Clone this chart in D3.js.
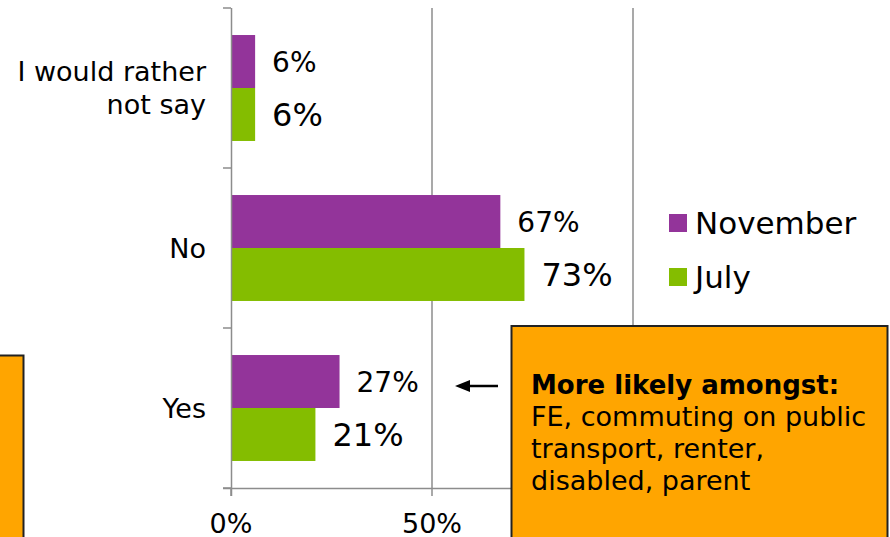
<!DOCTYPE html>
<html>
<head>
<meta charset="utf-8">
<script src="https://cdn.jsdelivr.net/npm/d3@7"></script>
<style>
  body { margin: 0; background: #fff; }
  svg { display: block; font-family: "DejaVu Sans", Verdana, sans-serif; }
</style>
</head>
<body>
<div id="chart"></div>
<script>
var w = 890, h = 537;

// data
var categories = ["I would rather not say", "No", "Yes"];
var series = ["November", "July"];
var november = [6, 67, 27];
var july = [6, 73, 21];
var seriesColors = ["#93349a", "#84bd00"];
var xTicks = [0, 50, 100];
var noteTitle = "More likely amongst:";
var noteLines = ["FE, commuting on public", "transport, renter,", "disabled, parent"];

var values = [november, july];

var svg = d3.select("#chart").append("svg").attr("width", w).attr("height", h);

var x = d3.scaleLinear().domain([0, 100]).range([231, 633]);
var y0 = d3.scaleBand().domain(categories).range([8, 488]);
var y1 = d3.scaleBand().domain(series).range([0, y0.bandwidth()]).paddingOuter(0.51);

// gridlines
svg.selectAll(".grid").data(xTicks.slice(1)).enter().append("line")
  .attr("x1", function(d) { return x(d); })
  .attr("x2", function(d) { return x(d); })
  .attr("y1", 8).attr("y2", 488)
  .attr("stroke", "#8c8c8c").attr("stroke-width", 1.5);

// bars
var groups = svg.selectAll(".cat").data(categories).enter().append("g")
  .attr("transform", function(d) { return "translate(0," + y0(d) + ")"; });

series.forEach(function(s, si) {
  groups.append("rect")
    .attr("x", x(0))
    .attr("y", y1(s))
    .attr("width", function(d, i) { return x(values[si][i]) - x(0); })
    .attr("height", y1.bandwidth())
    .attr("fill", seriesColors[si]);

  groups.append("text")
    .attr("x", function(d, i) { return x(values[si][i]) + 17; })
    .attr("y", y1(s) + y1.bandwidth() / 2)
    .attr("dy", "0.36em")
    .style("font-size", si == 0 ? "28px" : "32px")
    .attr("fill", "#000")
    .text(function(d, i) { return values[si][i] + "%"; });
});

// y axis
var yAxis = svg.append("g");
yAxis.append("line").attr("x1", 231.5).attr("x2", 231.5).attr("y1", 8).attr("y2", 496)
  .attr("stroke", "#8c8c8c").attr("stroke-width", 1.5);
var yTicks = y0.domain().map(function(d) { return y0(d); }).concat([488]);
yAxis.selectAll(".yt").data(yTicks).enter().append("line")
  .attr("x1", 223).attr("x2", 231)
  .attr("y1", function(d) { return d; }).attr("y2", function(d) { return d; })
  .attr("stroke", "#8c8c8c").attr("stroke-width", 1.5);

// category labels
var catLabels = svg.selectAll(".catlabel").data(categories).enter().append("text")
  .attr("text-anchor", "end")
  .style("font-size", "27px")
  .attr("fill", "#000");
catLabels.each(function(d) {
  var t = d3.select(this);
  var lines = d == "I would rather not say" ? ["I would rather", "not say"] : [d];
  var cy = y0(d) + y0.bandwidth() / 2;
  lines.forEach(function(l, i) {
    t.append("tspan").attr("x", 206)
      .attr("y", cy + (i - (lines.length - 1) / 2) * 33)
      .attr("dy", "0.36em")
      .text(l);
  });
});

// x axis
var xAxis = svg.append("g");
xAxis.append("line").attr("x1", 223).attr("x2", 633).attr("y1", 488.5).attr("y2", 488.5)
  .attr("stroke", "#8c8c8c").attr("stroke-width", 1.5);
xAxis.selectAll(".xt").data(xTicks).enter().append("line")
  .attr("x1", function(d) { return x(d); }).attr("x2", function(d) { return x(d); })
  .attr("y1", 488).attr("y2", 496)
  .attr("stroke", "#8c8c8c").attr("stroke-width", 1.5);
xAxis.selectAll(".xl").data(xTicks).enter().append("text")
  .attr("x", function(d) { return x(d); })
  .attr("y", 533)
  .attr("text-anchor", "middle")
  .style("font-size", "27px")
  .text(function(d) { return d + "%"; });

// legend
var legend = svg.selectAll(".legend").data(series).enter().append("g")
  .attr("transform", function(d, i) { return "translate(669," + (214 + i * 54) + ")"; });
legend.append("rect").attr("width", 18).attr("height", 18)
  .attr("fill", function(d, i) { return seriesColors[i]; });
legend.append("text").attr("x", 26).attr("y", 9).attr("dy", "0.36em")
  .style("font-size", "31px").text(function(d) { return d; });

// arrow pointing left at the Yes bars
svg.append("line").attr("x1", 498).attr("x2", 468).attr("y1", 386).attr("y2", 386)
  .attr("stroke", "#000").attr("stroke-width", 2.5);
svg.append("path").attr("d", "M455,386L470,380L470,392Z").attr("fill", "#000");

// left box
svg.append("rect").attr("x", -10).attr("y", 355.5).attr("width", 33.5).attr("height", 200)
  .attr("fill", "#ffa500").attr("stroke", "#222").attr("stroke-width", 2);

// note box
svg.append("rect").attr("x", 511.5).attr("y", 326).attr("width", 376).attr("height", 230)
  .attr("fill", "#ffa500").attr("stroke", "#222").attr("stroke-width", 2);
var note = svg.append("text").attr("x", 531).style("font-size", "27px").attr("fill", "#000");
note.append("tspan").attr("x", 531).attr("y", 394).style("font-weight", "bold")
  .style("font-size", "26px").text(noteTitle);
noteLines.forEach(function(l, i) {
  note.append("tspan").attr("x", 531).attr("y", 426 + i * 32).text(l);
});
</script>
</body>
</html>
